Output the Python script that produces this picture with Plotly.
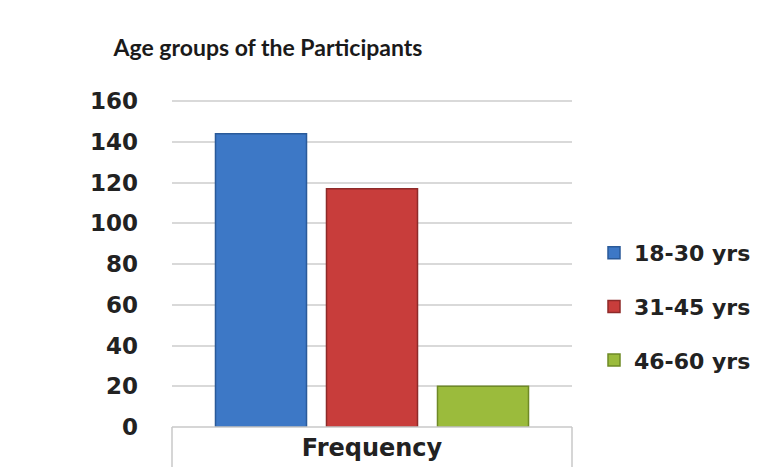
import plotly.graph_objects as go

# Participant counts per age group
category = ["Frequency"]
age_groups = ["18-30 yrs", "31-45 yrs", "46-60 yrs"]
counts = [144, 117, 20]
fill_colors = ["#3d78c6", "#c83d3b", "#9bbb3c"]
edge_colors = ["#2a5a99", "#8e2a29", "#6f8a26"]
y_ticks = [0, 20, 40, 60, 80, 100, 120, 140, 160]

W, H = 778, 467
L, R, T, B = 172, 206, 97, 40

fig = go.Figure()
for i, (name, val) in enumerate(zip(age_groups, counts)):
    fig.add_trace(go.Bar(
        x=category, y=[val], name=name, legendgroup=name,
        marker=dict(color=fill_colors[i], line=dict(color=edge_colors[i], width=1.5)),
    ))

fig.update_layout(
    width=W, height=H,
    margin=dict(l=L, r=R, t=T, b=B, pad=0),
    paper_bgcolor="white", plot_bgcolor="white",
    barmode="group", bargap=0.1675, bargroupgap=0.18,
    title=dict(text="Age groups of the Participants",
               font=dict(family="Lato", size=23, color="#1a1a1a", weight="bold"),
               x=268 / W, xanchor="center", xref="container",
               y=1 - 48 / H, yanchor="middle", yref="container"),
    xaxis=dict(showgrid=False, showline=False, zeroline=False, automargin=False,
               tickfont=dict(family="DejaVu Sans", size=24, color="#222222", weight="bold"),
               ticklabelstandoff=4),
    yaxis=dict(range=[0, 162], tickvals=y_ticks, showgrid=True, automargin=False,
               gridcolor="#d9d9d9", gridwidth=2, zeroline=False, showline=False,
               tickfont=dict(family="DejaVu Sans", size=23, color="#222222", weight="bold"),
               ticklabelstandoff=33),
    legend=dict(x=594 / W, xref="container", xanchor="left",
                y=1 - 232 / H, yref="container", yanchor="top",
                traceorder="grouped", tracegroupgap=22,
                font=dict(family="DejaVu Sans", size=22, color="#222222", weight="bold"),
                bgcolor="rgba(0,0,0,0)"),
    showlegend=True,
)

# Box framing the category axis label below the plot
yb = -B / (H - T - B)
fig.add_shape(type="line", xref="paper", yref="paper", x0=0, x1=1, y0=0, y1=0,
              line=dict(color="#c8c8c8", width=1.5))
fig.add_shape(type="line", xref="paper", yref="paper", x0=0, x1=0, y0=0, y1=yb,
              line=dict(color="#c8c8c8", width=1.5))
fig.add_shape(type="line", xref="paper", yref="paper", x0=1, x1=1, y0=0, y1=yb,
              line=dict(color="#c8c8c8", width=1.5))

fig.write_html("out.html")
